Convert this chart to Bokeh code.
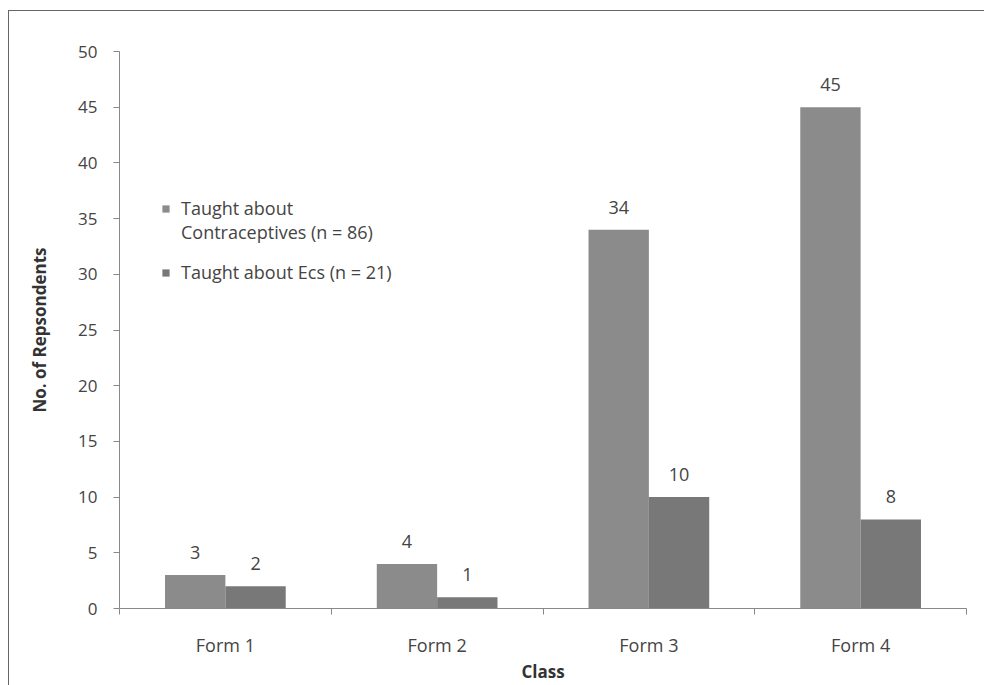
from bokeh.plotting import figure
from bokeh.models import Range1d, FixedTicker, Legend, LegendItem, ColumnDataSource
from bokeh.embed import file_html
from bokeh.resources import INLINE

categories = ["Form 1", "Form 2", "Form 3", "Form 4"]
contraceptives = [3, 4, 34, 45]
ecs = [2, 1, 10, 8]
legend_lines = [["Taught about", "Contraceptives (n = 86)"], ["Taught about Ecs (n = 21)"]]
y_ticks = [0, 5, 10, 15, 20, 25, 30, 35, 40, 45, 50]

FONT = "Open Sans"
TXT = "#444444"
bar_w = 0.285
offs = [-0.1425, 0.1425]
colors = ["#8b8b8b", "#787878"]

p = figure(frame_width=847, frame_height=557, output_backend="svg", toolbar_location=None,
           x_range=Range1d(0, len(categories)), y_range=Range1d(0, 50),
           min_border_left=110, min_border_right=18, min_border_top=40, min_border_bottom=20)
p.margin = (10, 0, 0, 8)
p.styles = {"border": "1px solid #666"}
p.grid.visible = False
p.outline_line_color = None
p.background_fill_color = "white"
p.border_fill_color = "white"

renderers = []
for k, vals in enumerate([contraceptives, ecs]):
    xs = [i + 0.5 + offs[k] for i in range(len(categories))]
    src = ColumnDataSource(dict(x=xs, top=vals, lab=[str(v) for v in vals]))
    r = p.vbar(x="x", top="top", bottom=0, width=bar_w, source=src,
               fill_color=colors[k], line_color=None)
    p.text(x="x", y="top", text="lab", source=src, text_align="center",
           text_baseline="bottom", y_offset=-16, text_font_size="18px",
           text_color=TXT, text_font={"value": FONT})
    renderers.append(r)

# invisible renderer used only for the second line of the first legend entry
dummy = p.scatter(x=[], y=[], size=0, fill_alpha=0, line_alpha=0)

def make_legend(items, loc):
    lg = Legend(items=items, location=loc, background_fill_alpha=0,
                border_line_color=None, label_text_font=FONT, label_text_font_size="18px",
                label_text_color=TXT, glyph_width=9, glyph_height=9,
                spacing=0, margin=0, padding=0, label_standoff=11,
                label_height=18)
    p.add_layout(lg)
    return lg

make_legend([LegendItem(label=legend_lines[0][0], renderers=[renderers[0]]),
             LegendItem(label=legend_lines[0][1], renderers=[dummy])], (42, 364))
make_legend([LegendItem(label=legend_lines[1][0], renderers=[renderers[1]])], (42, 324))

ax = p.xaxis[0]
ax.ticker = FixedTicker(ticks=[i + 0.5 for i in range(len(categories))],
                        minor_ticks=list(range(len(categories) + 1)))
ax.major_label_overrides = {i + 0.5: c for i, c in enumerate(categories)}
ax.major_tick_line_color = None
ax.major_tick_in = 0
ax.major_tick_out = 0
ax.minor_tick_in = 0
ax.minor_tick_out = 6
ax.minor_tick_line_color = "#888888"
ax.axis_line_color = "#888888"
ax.major_label_standoff = 18
ax.axis_label = "Class"
ax.axis_label_standoff = 0

ay = p.yaxis[0]
ay.ticker = FixedTicker(ticks=y_ticks, minor_ticks=[])
ay.major_tick_in = 0
ay.major_tick_out = 6
ay.major_tick_line_color = "#888888"
ay.axis_line_color = "#888888"
ay.major_label_standoff = 16
ay.axis_label = "No. of Repsondents"
ay.axis_label_standoff = 24

for a in (ax, ay):
    a.major_label_text_font = FONT
    a.major_label_text_font_size = "17px"
    a.major_label_text_color = TXT
    a.axis_label_text_font = FONT
    a.axis_label_text_font_style = "bold"
    a.axis_label_text_font_size = "17px"
    a.axis_label_text_color = "#333333"
ax.major_label_text_font_size = "18px"

open("out.html", "w").write(file_html(p, INLINE))
